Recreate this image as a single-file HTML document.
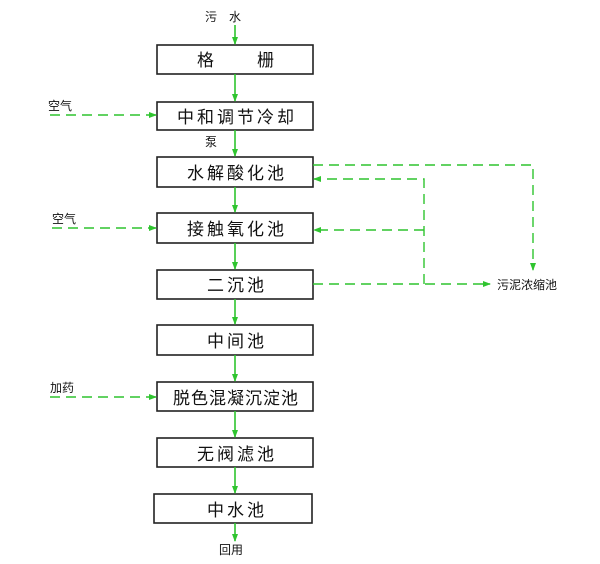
<!DOCTYPE html>
<html><head><meta charset="utf-8"><style>
html,body{margin:0;padding:0;background:#fff;width:600px;height:564px;overflow:hidden}
text{font-family:"Liberation Sans","Noto Sans CJK SC",sans-serif;fill:#111}
</style></head><body>
<svg width="600" height="564" viewBox="0 0 600 564" xmlns="http://www.w3.org/2000/svg">
<defs>
<marker id="a" markerWidth="8" markerHeight="8" refX="7" refY="4" orient="auto" markerUnits="userSpaceOnUse"><path d="M0,1 L8,4 L0,7z" fill="#2fc42f"/></marker>
</defs>
<g fill="none" stroke="#222" stroke-width="1.6">
<rect x="157" y="45" width="156" height="29"/>
<rect x="157" y="102" width="156" height="28"/>
<rect x="157" y="157" width="156" height="30"/>
<rect x="157" y="213" width="156" height="30"/>
<rect x="157" y="270" width="156" height="29"/>
<rect x="157" y="325" width="156" height="30"/>
<rect x="157" y="382" width="156" height="29"/>
<rect x="157" y="438" width="156" height="29"/>
<rect x="154" y="494" width="158" height="29"/>
</g>
<g stroke="#2fc42f" stroke-width="1.6" fill="none">
<line x1="235" y1="25" x2="235" y2="44" marker-end="url(#a)"/>
<line x1="235" y1="74" x2="235" y2="101" marker-end="url(#a)"/>
<line x1="235" y1="130" x2="235" y2="156" marker-end="url(#a)"/>
<line x1="235" y1="187" x2="235" y2="212" marker-end="url(#a)"/>
<line x1="235" y1="243" x2="235" y2="269" marker-end="url(#a)"/>
<line x1="235" y1="299" x2="235" y2="324" marker-end="url(#a)"/>
<line x1="235" y1="355" x2="235" y2="381" marker-end="url(#a)"/>
<line x1="235" y1="411" x2="235" y2="437" marker-end="url(#a)"/>
<line x1="235" y1="467" x2="235" y2="493" marker-end="url(#a)"/>
<line x1="235" y1="523" x2="235" y2="541" marker-end="url(#a)"/>
</g>
<g stroke="#2fc42f" stroke-width="1.4" fill="none" stroke-dasharray="10,6">
<line x1="50" y1="115" x2="156" y2="115" marker-end="url(#a)"/>
<line x1="52" y1="228" x2="156" y2="228" marker-end="url(#a)"/>
<line x1="50" y1="397" x2="156" y2="397" marker-end="url(#a)"/>
<polyline points="313,165 533,165 533,270" marker-end="url(#a)"/>
<polyline points="424,284 424,179 314,179" marker-end="url(#a)"/>
<line x1="424" y1="230" x2="314" y2="230" marker-end="url(#a)"/>
<line x1="313" y1="284" x2="490" y2="284" marker-end="url(#a)"/>
</g>
<g font-size="17" text-anchor="middle" letter-spacing="3">
<text x="237" y="66">格&#12288;&#12288;栅</text>
<text x="237" y="123">中和调节冷却</text>
<text x="237" y="179">水解酸化池</text>
<text x="237" y="235">接触氧化池</text>
<text x="237" y="291">二沉池</text>
<text x="237" y="347">中间池</text>
<text x="236" y="404" letter-spacing="1">脱色混凝沉淀池</text>
<text x="237" y="460">无阀滤池</text>
<text x="237" y="516">中水池</text>
</g>
<g font-size="12">
<text x="205" y="21">污&#12288;水</text>
<text x="48" y="110">空气</text>
<text x="52" y="223">空气</text>
<text x="50" y="392">加药</text>
<text x="205" y="146">泵</text>
<text x="497" y="289">污泥浓缩池</text>
<text x="219" y="554">回用</text>
</g>
</svg>
</body></html>
